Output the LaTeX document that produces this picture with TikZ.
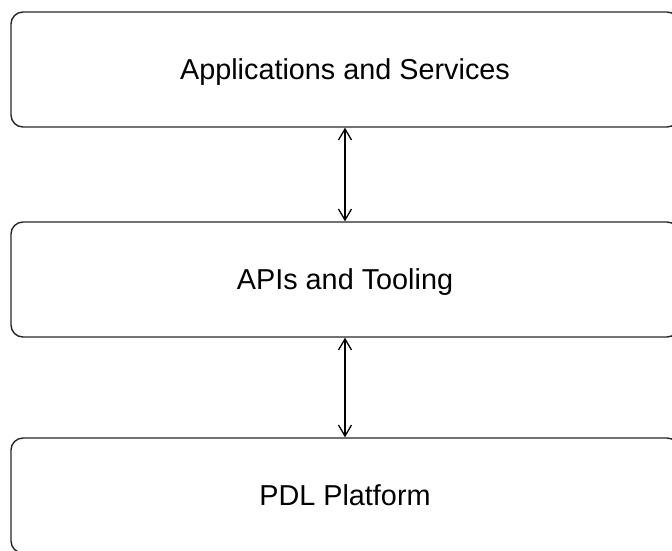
\documentclass[tikz,border=0pt]{standalone}
\usepackage{fontspec}
\setmainfont{Liberation Sans}
\usetikzlibrary{arrows.meta}
\begin{document}
\begin{tikzpicture}[x=1pt,y=-1pt,
  layer/.style={draw=black!85, line width=1.4pt, rounded corners=12pt,
    minimum width=668pt, minimum height=115pt, inner sep=0pt,
    text height=20.6pt, text depth=0pt,
    font=\fontsize{28.8}{31}\selectfont},
  link/.style={line width=1.3pt, {Straight Barb[length=11pt,width=13pt,line width=1.3pt]}-{Straight Barb[length=11pt,width=13pt,line width=1.3pt]}}]
  \useasboundingbox (0,0) rectangle (672,550);
  \begin{scope}
    \clip (0,0) rectangle (672,550);
    \node[layer] (apps) at (345,69.5) {Applications and Services};
    \node[layer] (apis) at (345,279.5) {APIs and Tooling};
    \node[layer] (pdl)  at (345,495.5) {PDL Platform};
    \draw[link] (apps.south) -- (apis.north);
    \draw[link] (apis.south) -- (pdl.north);
  \end{scope}
\end{tikzpicture}
\end{document}
